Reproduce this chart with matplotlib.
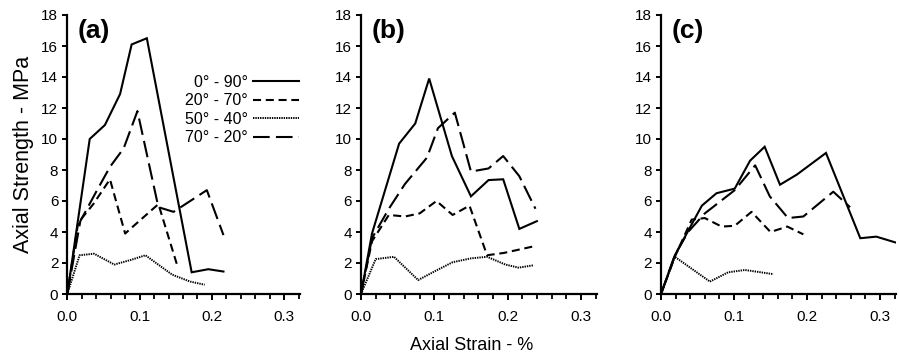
import matplotlib
matplotlib.use("Agg")
import matplotlib.pyplot as plt
from matplotlib.ticker import MultipleLocator

plt.rcParams['font.family'] = ['Liberation Sans', 'DejaVu Sans']
plt.rcParams['lines.scale_dashes'] = False

# ---------------- data ----------------
labels = ["0\u00b0 - 90\u00b0", "20\u00b0 - 70\u00b0", "50\u00b0 - 40\u00b0", "70\u00b0 - 20\u00b0"]

# panel (a)
a_x_0_90 = [0, 0.031, 0.052, 0.073, 0.089, 0.110, 0.172, 0.195, 0.216]
a_y_0_90 = [0, 10.0, 10.9, 12.9, 16.1, 16.5, 1.4, 1.6, 1.45]
a_x_20_70 = [0, 0.015, 0.036, 0.059, 0.080, 0.092, 0.126, 0.153]
a_y_20_70 = [0, 4.6, 5.8, 7.4, 3.9, 4.4, 5.8, 1.7]
a_x_50_40 = [0, 0.017, 0.037, 0.065, 0.088, 0.108, 0.145, 0.170, 0.190]
a_y_50_40 = [0, 2.5, 2.6, 1.9, 2.2, 2.5, 1.25, 0.8, 0.6]
a_x_70_20 = [0, 0.018, 0.040, 0.059, 0.078, 0.097, 0.126, 0.147, 0.193, 0.216]
a_y_70_20 = [0, 4.7, 6.6, 8.2, 9.4, 11.8, 5.6, 5.3, 6.7, 3.8]

# panel (b)
b_x_0_90 = [0, 0.015, 0.052, 0.074, 0.093, 0.124, 0.150, 0.174, 0.194, 0.216, 0.240]
b_y_0_90 = [0, 3.9, 9.7, 11.0, 13.9, 8.9, 6.3, 7.35, 7.4, 4.2, 4.7]
b_x_20_70 = [0, 0.015, 0.038, 0.060, 0.080, 0.103, 0.125, 0.148, 0.172, 0.195, 0.238]
b_y_20_70 = [0, 3.4, 5.1, 5.0, 5.2, 6.0, 5.1, 5.7, 2.5, 2.65, 3.1]
b_x_50_40 = [0, 0.020, 0.045, 0.078, 0.102, 0.125, 0.150, 0.172, 0.197, 0.215, 0.235]
b_y_50_40 = [0, 2.25, 2.4, 0.9, 1.5, 2.05, 2.3, 2.4, 1.9, 1.7, 1.85]
b_x_70_20 = [0, 0.015, 0.038, 0.060, 0.090, 0.105, 0.128, 0.150, 0.174, 0.194, 0.216, 0.238]
b_y_70_20 = [0, 3.6, 5.5, 7.1, 8.8, 10.7, 11.7, 7.9, 8.1, 8.9, 7.6, 5.5]

# panel (c)
c_x_0_90 = [0, 0.019, 0.056, 0.076, 0.101, 0.122, 0.142, 0.163, 0.186, 0.226, 0.273, 0.295, 0.323]
c_y_0_90 = [0, 2.5, 5.7, 6.5, 6.8, 8.6, 9.5, 7.05, 7.7, 9.1, 3.6, 3.7, 3.3]
c_x_20_70 = [0, 0.019, 0.042, 0.060, 0.083, 0.101, 0.124, 0.150, 0.173, 0.195]
c_y_20_70 = [0, 2.4, 4.8, 4.9, 4.35, 4.4, 5.3, 4.0, 4.35, 3.85]
c_x_50_40 = [0, 0.019, 0.067, 0.092, 0.115, 0.154]
c_y_50_40 = [0, 2.4, 0.8, 1.4, 1.55, 1.28]
c_x_70_20 = [0, 0.019, 0.037, 0.060, 0.101, 0.129, 0.149, 0.174, 0.195, 0.236, 0.259]
c_y_70_20 = [0, 2.5, 4.0, 5.2, 6.7, 8.3, 6.3, 4.9, 5.0, 6.6, 5.6]

panel_names = ["(a)", "(b)", "(c)"]
panels = [
    [(a_x_0_90, a_y_0_90), (a_x_20_70, a_y_20_70), (a_x_50_40, a_y_50_40), (a_x_70_20, a_y_70_20)],
    [(b_x_0_90, b_y_0_90), (b_x_20_70, b_y_20_70), (b_x_50_40, b_y_50_40), (b_x_70_20, b_y_70_20)],
    [(c_x_0_90, c_y_0_90), (c_x_20_70, c_y_20_70), (c_x_50_40, c_y_50_40), (c_x_70_20, c_y_70_20)],
]

styles = [
    dict(linestyle='-', lw=1.5),
    dict(linestyle=(0, (5.8, 3.4)), lw=1.5),
    dict(linestyle=(0, (1.0, 0.7)), lw=1.4),
    dict(linestyle=(0, (12.0, 4.5)), lw=1.5),
]

W, H = 899, 358
fig = plt.figure(figsize=(W / 100, H / 100), dpi=100)

lefts = [67.3, 361.0, 661.0]
xscale = [723.0, 733.0, 730.0]   # px per unit strain
bottom_px, top_px = 294.0, 15.0
xmax = 0.322

axes = []
for i in range(3):
    wpx = xmax * xscale[i]
    ax = fig.add_axes([lefts[i] / W, (H - bottom_px) / H, wpx / W, (bottom_px - top_px) / H])
    for (xs, ys), st in zip(panels[i], styles):
        ax.plot(xs, ys, color='black', solid_joinstyle='miter', **st)
    ax.set_xlim(0, xmax)
    ax.set_ylim(0, 18)
    ax.xaxis.set_major_locator(MultipleLocator(0.1))
    ax.xaxis.set_minor_locator(MultipleLocator(0.02))
    ax.yaxis.set_major_locator(MultipleLocator(2))
    ax.xaxis.set_major_formatter(matplotlib.ticker.FormatStrFormatter('%.1f'))
    for s in ['top', 'right']:
        ax.spines[s].set_visible(False)
    for s in ['left', 'bottom']:
        ax.spines[s].set_linewidth(1.6)
    ax.tick_params(axis='x', which='major', direction='out', length=4.5, width=1.4, labelsize=11, pad=7)
    ax.tick_params(axis='x', which='minor', direction='out', length=3.5, width=1.3)
    ax.tick_params(axis='y', which='major', direction='out', length=3.5, width=1.4, labelsize=11, pad=3)
    ax.text(0.045, 0.985, panel_names[i], transform=ax.transAxes, fontsize=19,
            fontweight='bold', ha='left', va='top')
    ax.patch.set_alpha(0)
    axes.append(ax)

axes[0].set_ylabel("Axial Strength - MPa", fontsize=15.5, labelpad=5)
fig.text(472 / W, 1 - 345 / H, "Axial Strain - %", fontsize=13, ha='center', va='center')

handles = axes[0].get_lines()
leg = axes[0].legend(handles, labels, loc='upper right', bbox_to_anchor=(0.995, 0.786),
                     frameon=False, markerfirst=False, fontsize=11.5, handlelength=2.9,
                     handletextpad=0.3, labelspacing=0.22, borderpad=0, borderaxespad=0)

fig.savefig("out.png", dpi=100)
